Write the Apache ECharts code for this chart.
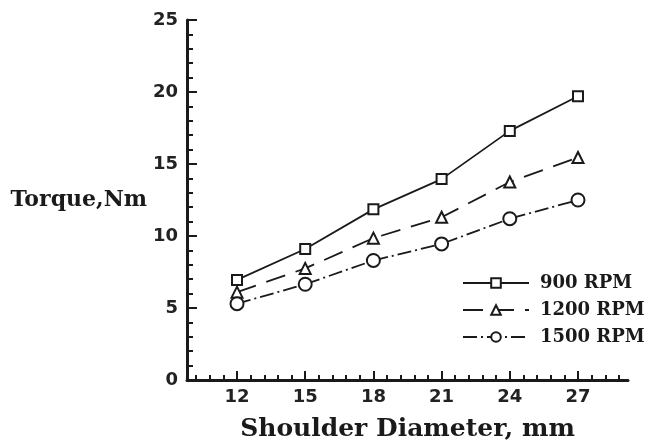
<!DOCTYPE html>
<html>
<head>
<meta charset="utf-8">
<script src="https://cdn.jsdelivr.net/npm/echarts@6/dist/echarts.min.js"></script>
<style>html,body{margin:0;padding:0;background:#fff;}#c{width:657px;height:447px;}</style>
</head>
<body>
<div id="c"></div>
<script>
// ---- data ----
const diameters = [12, 15, 18, 21, 24, 27];
const torque900 = [6.95, 9.1, 11.85, 13.95, 17.3, 19.7];
const torque1200 = [6.1, 7.75, 9.85, 11.3, 13.75, 15.45];
const torque1500 = [5.3, 6.65, 8.3, 9.45, 11.2, 12.5];
const seriesNames = ['900 RPM', '1200 RPM', '1500 RPM'];
const xTickLabels = [12, 15, 18, 21, 24, 27];
const yTickLabels = [0, 5, 10, 15, 20, 25];

// minor tick positions on x (every 0.6 mm)
const xMinorTicks = [];
for (let i = 0; i <= 31; i++) xMinorTicks.push(+(10.2 + i * 0.6).toFixed(2));

const pairs = (ys) => diameters.map((x, i) => [x, ys[i]]);
const ink = '#1a1a1a';
const tickFont = { fontFamily: 'DejaVu Sans', fontWeight: 'bold', fontSize: 18, color: '#222' };

const chart = echarts.init(document.getElementById('c'), null, { renderer: 'canvas' });
const xBase = { type: 'value', min: 9.8, max: 29.2, splitLine: { show: false } };
chart.setOption({
  animation: false,
  backgroundColor: '#fff',
  grid: { left: 187, right: 29, top: 20, bottom: 60, containLabel: false },
  xAxis: [
    Object.assign({}, xBase, {
      name: 'Shoulder Diameter, mm',
      nameLocation: 'middle',
      nameGap: 37,
      nameTextStyle: { fontFamily: 'DejaVu Serif', fontWeight: 'bold', fontSize: 25, color: ink },
      axisLine: { show: true, lineStyle: { color: ink, width: 3 } },
      axisTick: { show: true, inside: true, length: 5, customValues: xMinorTicks, lineStyle: { color: ink, width: 2 } },
      axisLabel: Object.assign({ customValues: xTickLabels, margin: 8 }, tickFont)
    }),
    Object.assign({}, xBase, {
      position: 'bottom',
      axisLine: { show: false },
      axisTick: { show: true, inside: true, length: 9, customValues: xTickLabels, lineStyle: { color: ink, width: 2 } },
      axisLabel: { show: false }
    })
  ],
  yAxis: {
    type: 'value', min: 0, max: 25, interval: 5,
    name: 'Torque,Nm',
    nameLocation: 'middle',
    nameRotate: 0,
    nameGap: 37,
    nameTextStyle: { fontFamily: 'DejaVu Serif', fontWeight: 'bold', fontSize: 22, color: ink, align: 'right' },
    axisLine: { show: true, lineStyle: { color: ink, width: 3 } },
    axisTick: { show: true, inside: true, length: 10, lineStyle: { color: ink, width: 2 } },
    minorTick: { show: true, splitNumber: 5, length: 6, lineStyle: { color: ink, width: 2 } },
    axisLabel: Object.assign({ margin: 9, customValues: yTickLabels }, tickFont),
    splitLine: { show: false }
  },
  legend: {
    orient: 'vertical',
    left: 457, top: 269,
    itemWidth: 66, itemHeight: 12, itemGap: 9,
    textStyle: { fontFamily: 'DejaVu Serif', fontWeight: 'bold', fontSize: 18, color: ink, padding: [0, 0, 0, 6] },
    data: seriesNames
  },
  series: [
    {
      name: seriesNames[0], type: 'line', data: pairs(torque900),
      symbol: 'rect', symbolSize: 10,
      lineStyle: { color: ink, width: 1.8, type: 'solid' },
      itemStyle: { color: '#fff', borderColor: ink, borderWidth: 2 }
    },
    {
      name: seriesNames[1], type: 'line', data: pairs(torque1200),
      symbol: 'triangle', symbolSize: 11,
      lineStyle: { color: ink, width: 1.8, type: [20, 11] },
      itemStyle: { color: '#fff', borderColor: ink, borderWidth: 2 }
    },
    {
      name: seriesNames[2], type: 'line', data: pairs(torque1500),
      symbol: 'circle', symbolSize: 13,
      lineStyle: { color: ink, width: 1.8, type: [14, 4, 2, 4] },
      itemStyle: { color: '#fff', borderColor: ink, borderWidth: 2 }
    }
  ]
});
</script>
</body>
</html>
